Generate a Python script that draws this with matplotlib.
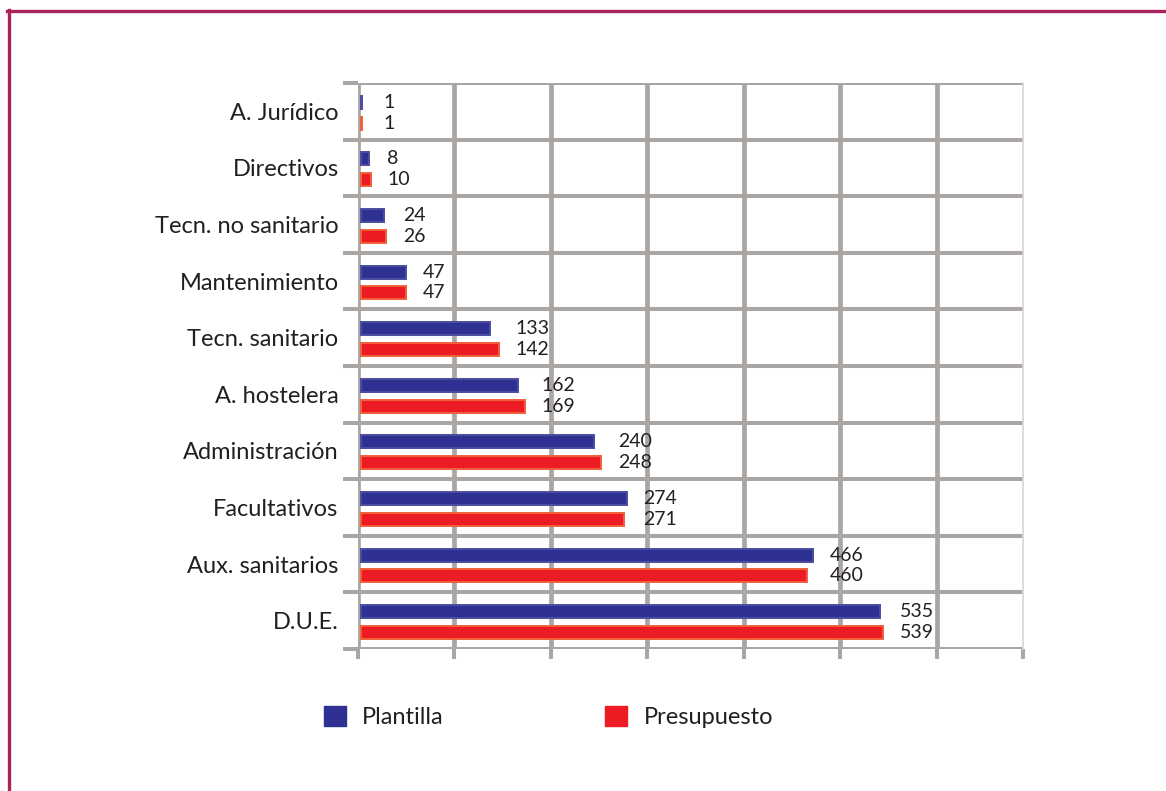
import matplotlib
matplotlib.use('Agg')
import matplotlib.pyplot as plt
import matplotlib.lines as mlines
import matplotlib.patches as mpatches
import numpy as np

# data, top to bottom as in the picture
categorias = ['A. Jurídico', 'Directivos', 'Tecn. no sanitario', 'Mantenimiento',
              'Tecn. sanitario', 'A. hostelera', 'Administración', 'Facultativos',
              'Aux. sanitarios', 'D.U.E.']
plantilla = [1, 8, 24, 47, 133, 162, 240, 274, 466, 535]
presupuesto = [1, 10, 26, 47, 142, 169, 248, 271, 460, 539]
series_labels = ['Plantilla', 'Presupuesto']

AZUL = '#2e3192'
ROJO = '#ed1c24'
GRIS = '#aaa6a4'
TEXTO = '#231f20'

plt.rcParams['font.family'] = ['Lato', 'DejaVu Sans']

fig = plt.figure(figsize=(11.66, 7.91), dpi=100)
ax = fig.add_axes([358 / 1166, 1 - 649 / 791, (1023 - 358) / 1166, (649 - 83) / 791])

n = len(categorias)
y = np.arange(n)[::-1]  # first category on top
h = 0.23
ax.barh(y + 0.16, plantilla, height=h, color=AZUL, edgecolor='#4a4da0', linewidth=1.4, zorder=3)
ax.barh(y - 0.21, presupuesto, height=h, color=ROJO, edgecolor='#f0603a', linewidth=1.4, zorder=3)

for yy, p, q in zip(y, plantilla, presupuesto):
    xm = max(p, q, 6)
    ax.annotate(str(p), (xm, yy + 0.16), xytext=(12, 0), textcoords='offset points',
                va='center', ha='left', fontsize=14, color=TEXTO)
    ax.annotate(str(q), (xm, yy - 0.21), xytext=(12, 0), textcoords='offset points',
                va='center', ha='left', fontsize=14, color=TEXTO)

x0 = -3
ax.set_xlim(x0, 683)
ax.set_ylim(-0.5, n - 0.5)

# grid
xg = np.arange(x0, 683, 99.5)
ax.set_xticks(list(xg) + [683])
ax.set_xticklabels([])
ax.set_yticks(np.arange(-0.5, n, 1))
ax.set_yticklabels([])
ax.set_yticks(y, minor=True)
ax.set_yticklabels(categorias, minor=True, fontsize=17, color=TEXTO)
ax.tick_params(axis='y', which='minor', length=0, pad=14)
ax.tick_params(axis='y', which='major', length=11, width=2.9, color=GRIS)
ax.tick_params(axis='x', which='major', length=7, width=2.9, color=GRIS)
for xv in xg:
    ax.axvline(xv, color=GRIS, lw=3.4, zorder=1)
for yv in np.arange(-0.5, n, 1):
    ax.axhline(yv, color=GRIS, lw=2.9, zorder=1)
for s in ['top', 'bottom', 'left']:
    ax.spines[s].set_visible(False)
ax.spines['right'].set_color('#d8d5d4')
ax.spines['right'].set_linewidth(1.2)

# legend
handles = [mpatches.Patch(color=AZUL), mpatches.Patch(color=ROJO)]
fig.legend(handles, series_labels, loc='center left', bbox_to_anchor=(324 / 1166, 1 - 717 / 791),
           ncol=2, frameon=False, fontsize=17, handlelength=0.93, handleheight=0.93,
           handletextpad=0.68, columnspacing=6.85, labelcolor=TEXTO, borderaxespad=0,
           borderpad=0)

# frame of the figure
borde = '#a8235a'
fig.add_artist(mlines.Line2D([8.5 / 1166, 8.5 / 1166], [0, 1 - 10 / 791], color=borde, lw=2.4,
                             transform=fig.transFigure))
fig.add_artist(mlines.Line2D([7 / 1166, 1], [1 - 10.5 / 791, 1 - 10.5 / 791], color=borde, lw=2.4,
                             transform=fig.transFigure))

fig.savefig('out.png', dpi=100, facecolor='white')
